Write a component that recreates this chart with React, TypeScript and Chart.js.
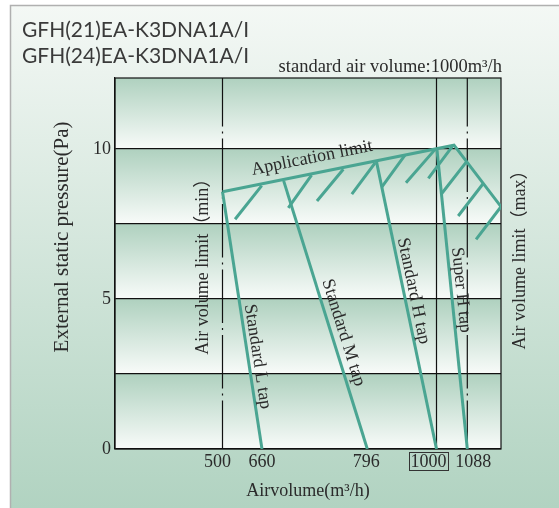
import React, { useEffect, useRef } from 'react';
import { Chart, registerables, LinearScale } from 'chart.js';

// ---------------- data ----------------
const X_TICKS = [500, 660, 796, 1000, 1088];
const X_MIN = 0;
const X_MAX = 1184;
const Y_MIN = 0;
const Y_MAX = 12.37;
const Y_GRID = [0, 2.5, 5, 7.5, 10];
const Y_LABELED = [0, 5, 10];
const STANDARD_AIR_VOLUME = 1000;

const APP_LIMIT_X = [500, 1050, 1184];
const APP_LIMIT_Y = [8.58, 10.13, 8.08];

const TAP_NAMES = ['Standard L tap', 'Standard M tap', 'Standard H tap', 'Super H tap'];
const TAP_START_X = [500, 688, 823, 1001];
const TAP_START_Y = [8.58, 8.94, 9.58, 10.02];
const TAP_END_X = [660, 796, 1000, 1088];
const TAP_END_Y = [0, 0, 0, 0];

const HATCH_START_X = [659, 724, 765, 819, 907, 996, 1048, 1086, 1134, 1184];
const HATCH_START_Y = [8.78, 9.13, 9.33, 9.54, 9.8, 9.99, 10.13, 9.58, 8.86, 8.08];
const HATCH_END_X = [551, 694, 731, 776, 839, 910, 976, 1015, 1062, 1113];
const HATCH_END_Y = [7.66, 8.04, 8.27, 8.5, 8.74, 8.88, 9.02, 8.52, 7.77, 6.99];

const LIMIT_LINE_X = [500, 1000, 1088];
const LIMIT_LINE_DASHED = [true, false, true];

// ---------------- layout (not data) ----------------
// fraction of plot width at which each axis break value sits (schematic, non-linear axis)
const X_BREAK_VALUES = [X_MIN, ...X_TICKS, X_MAX];
const X_BREAK_POS = [0, 0.2785, 0.3808, 0.6537, 0.8329, 0.9127, 1];
const X_TICK_NUDGE = [-5, 0, -1, -8, 6];
const TAP_LABEL_ANCHOR = [
  [642, 3.08],
  [765, 3.88],
  [932, 5.27],
  [1070, 5.3],
];
const APP_LABEL_ANCHOR = [724.6, 9.7];
const MIN_LABEL_ANCHOR = [409, 6.23];
const MAX_LABEL_Y = 6.45;
const Y_TITLE_VALUE = 7.07;

const TEAL = '#4aa592';
const INK = '#2b2b2b';
const SERIF = "'Liberation Serif', 'Times New Roman', 'Noto Sans CJK SC', serif";

function interp(v: number, xs: number[], ys: number[]) {
  const n = xs.length;
  let i = 0;
  if (v <= xs[0]) i = 0;
  else if (v >= xs[n - 1]) i = n - 2;
  else {
    while (i < n - 2 && v > xs[i + 1]) i++;
  }
  const t = (v - xs[i]) / (xs[i + 1] - xs[i]);
  return ys[i] + t * (ys[i + 1] - ys[i]);
}

class PiecewiseScale extends LinearScale {
  static id = 'piecewise';
  static defaults = LinearScale.defaults;
  getPixelForValue(value: any) {
    if (value === null || value === undefined || isNaN(value)) return NaN;
    return this.getPixelForDecimal(interp(value, X_BREAK_VALUES, X_BREAK_POS));
  }
  getValueForPixel(pixel: number) {
    return interp(this.getDecimalForPixel(pixel), X_BREAK_POS, X_BREAK_VALUES);
  }
}

Chart.register(...registerables, PiecewiseScale as any);

function pts(xs: number[], ys: number[]) {
  return xs.map((x, i) => ({ x, y: ys[i] }));
}

const decor = {
  id: 'decor',
  beforeDraw(chart: any) {
    const { ctx, chartArea: ca, width, height, scales } = chart;
    ctx.save();
    ctx.fillStyle = '#ffffff';
    ctx.fillRect(0, 0, width, height);
    const g = ctx.createLinearGradient(0, 5, 0, height);
    g.addColorStop(0, '#f4f8f5');
    g.addColorStop(1, '#b1d3c1');
    ctx.fillStyle = g;
    ctx.fillRect(10, 5, width - 10, height - 5);
    ctx.strokeStyle = '#b0b0b0';
    ctx.lineWidth = 1.5;
    ctx.beginPath();
    ctx.moveTo(10.5, height);
    ctx.lineTo(10.5, 5.5);
    ctx.lineTo(width, 5.5);
    ctx.stroke();
    // gradient bands between grid lines
    const y = scales.y;
    const bounds = [...Y_GRID, Y_MAX];
    for (let i = 0; i < bounds.length - 1; i++) {
      const top = y.getPixelForValue(bounds[i + 1]);
      const bot = y.getPixelForValue(bounds[i]);
      const bg = ctx.createLinearGradient(0, top, 0, bot);
      bg.addColorStop(0, '#afd1bf');
      bg.addColorStop(1, '#f8fbf9');
      ctx.fillStyle = bg;
      ctx.fillRect(ca.left, top, ca.right - ca.left, bot - top);
    }
    ctx.restore();
  },
  beforeDatasetsDraw(chart: any) {
    const { ctx, chartArea: ca } = chart;
    ctx.save();
    ctx.strokeStyle = '#111';
    ctx.lineWidth = 1.2;
    ctx.strokeRect(ca.left, ca.top, ca.right - ca.left, ca.bottom - ca.top);
    ctx.restore();
  },
  afterDraw(chart: any) {
    const { ctx, chartArea: ca, scales } = chart;
    const xs = scales.x;
    const ys = scales.y;
    ctx.save();
    // headings
    ctx.fillStyle = '#3a3a3a';
    ctx.font = "21px Lato, 'Noto Sans', sans-serif";
    ctx.textAlign = 'left';
    ctx.textBaseline = 'alphabetic';
    ctx.fillText('GFH(21)EA-K3DNA1A/I', 22, 37);
    ctx.fillText('GFH(24)EA-K3DNA1A/I', 22, 63);

    ctx.fillStyle = INK;
    ctx.font = `18.5px ${SERIF}`;
    ctx.textAlign = 'right';
    ctx.fillText('standard air volume:1000m³/h', ca.right + 1, 72);

    // x tick labels
    ctx.font = `18px ${SERIF}`;
    ctx.textAlign = 'center';
    ctx.textBaseline = 'middle';
    X_TICKS.forEach((v, i) => {
      const px = xs.getPixelForValue(v) + X_TICK_NUDGE[i];
      const py = ca.bottom + 13;
      ctx.fillText(String(v), px, py);
      if (v === STANDARD_AIR_VOLUME) {
        const w = ctx.measureText(String(v)).width;
        ctx.strokeStyle = '#333';
        ctx.lineWidth = 1;
        ctx.strokeRect(Math.round(px - w / 2 - 1.5) + 0.5, Math.round(ca.bottom + 3) + 0.5, Math.round(w + 3), 18);
      }
    });

    const drawRot = (text: string, x: number, y: number, a: number) => {
      ctx.save();
      ctx.translate(x, y);
      ctx.rotate(a);
      ctx.textAlign = 'center';
      ctx.textBaseline = 'middle';
      ctx.fillText(text, 0, 0);
      ctx.restore();
    };

    // y axis title
    ctx.save();
    ctx.font = `21px ${SERIF}`;
    drawRot('External static pressure(Pa)', 62, ys.getPixelForValue(Y_TITLE_VALUE), -Math.PI / 2);
    ctx.restore();

    // application limit
    {
      const x0 = xs.getPixelForValue(APP_LIMIT_X[0]);
      const y0 = ys.getPixelForValue(APP_LIMIT_Y[0]);
      const x1 = xs.getPixelForValue(APP_LIMIT_X[1]);
      const y1 = ys.getPixelForValue(APP_LIMIT_Y[1]);
      drawRot('Application limit', xs.getPixelForValue(APP_LABEL_ANCHOR[0]), ys.getPixelForValue(APP_LABEL_ANCHOR[1]), Math.atan2(y1 - y0, x1 - x0));
    }
    // tap labels
    TAP_NAMES.forEach((name, i) => {
      const x0 = xs.getPixelForValue(TAP_START_X[i]);
      const y0 = ys.getPixelForValue(TAP_START_Y[i]);
      const x1 = xs.getPixelForValue(TAP_END_X[i]);
      const y1 = ys.getPixelForValue(TAP_END_Y[i]);
      drawRot(name, xs.getPixelForValue(TAP_LABEL_ANCHOR[i][0]), ys.getPixelForValue(TAP_LABEL_ANCHOR[i][1]), Math.atan2(y1 - y0, x1 - x0));
    });
    drawRot('Air volume limit（min）', xs.getPixelForValue(MIN_LABEL_ANCHOR[0]), ys.getPixelForValue(MIN_LABEL_ANCHOR[1]), -Math.PI / 2);
    drawRot('Air volume limit（max）', ca.right + 19, ys.getPixelForValue(MAX_LABEL_Y), -Math.PI / 2);
    ctx.restore();
  },
};

function buildDatasets() {
  const line = { borderColor: TEAL, borderWidth: 3, pointRadius: 0, fill: false, tension: 0 };
  const ds: any[] = [];
  ds.push({ ...line, label: 'Application limit', data: pts(APP_LIMIT_X, APP_LIMIT_Y) });
  TAP_NAMES.forEach((name, i) => {
    ds.push({
      ...line,
      label: name,
      data: [
        { x: TAP_START_X[i], y: TAP_START_Y[i] },
        { x: TAP_END_X[i], y: TAP_END_Y[i] },
      ],
    });
  });
  const hatch: any[] = [];
  HATCH_START_X.forEach((x, i) => {
    hatch.push({ x, y: HATCH_START_Y[i] });
    hatch.push({ x: HATCH_END_X[i], y: HATCH_END_Y[i] });
    hatch.push({ x: HATCH_END_X[i], y: null });
  });
  ds.push({ ...line, label: 'hatch', data: hatch, spanGaps: false });
  LIMIT_LINE_X.forEach((x, i) => {
    ds.push({
      label: 'limit ' + x,
      data: [
        { x, y: Y_MAX },
        { x, y: Y_MIN },
      ],
      borderColor: '#111',
      borderWidth: 1.2,
      pointRadius: 0,
      borderDash: LIMIT_LINE_DASHED[i] ? [53.5, 5, 2, 5] : [],
      borderDashOffset: 5,
    });
  });
  return ds;
}

export default function App() {
  const ref = useRef<HTMLCanvasElement>(null);
  useEffect(() => {
    const chart = new Chart(ref.current as HTMLCanvasElement, {
      type: 'line',
      data: { datasets: buildDatasets() },
      options: {
        animation: false,
        responsive: false,
        devicePixelRatio: 1,
        layout: { padding: { left: 0, right: 58, top: 78, bottom: 0 } },
        plugins: { legend: { display: false }, tooltip: { enabled: false }, title: { display: false } },
        scales: {
          x: {
            type: 'piecewise',
            min: X_MIN,
            max: X_MAX,
            ticks: { display: false },
            grid: { display: false },
            border: { display: false },
            title: {
              display: true,
              text: 'Airvolume(m³/h)',
              color: INK,
              font: { family: SERIF, size: 18 },
              padding: { top: 0, bottom: 6 },
            },
            afterFit: (s: any) => {
              s.height = 59;
            },
          },
          y: {
            type: 'linear',
            min: Y_MIN,
            max: Y_MAX,
            afterBuildTicks: (s: any) => {
              s.ticks = Y_GRID.map((v) => ({ value: v }));
            },
            ticks: {
              color: INK,
              font: { family: SERIF, size: 18 },
              padding: 4,
              callback: (v: any) => (Y_LABELED.includes(Number(v)) ? String(v) : ''),
            },
            grid: { color: '#111', lineWidth: 1.2, drawTicks: false },
            border: { display: true, color: '#111', width: 1.2 },
            title: { display: false },
            afterFit: (s: any) => {
              s.width = 115;
            },
          },
        } as any,
      },
      plugins: [decor],
    } as any);
    return () => chart.destroy();
  }, []);
  return (
    <div style={{ position: 'absolute', left: 0, top: 0, width: 559, height: 508 }}>
      <canvas ref={ref} width={559} height={508} style={{ display: 'block' }} />
    </div>
  );
}
